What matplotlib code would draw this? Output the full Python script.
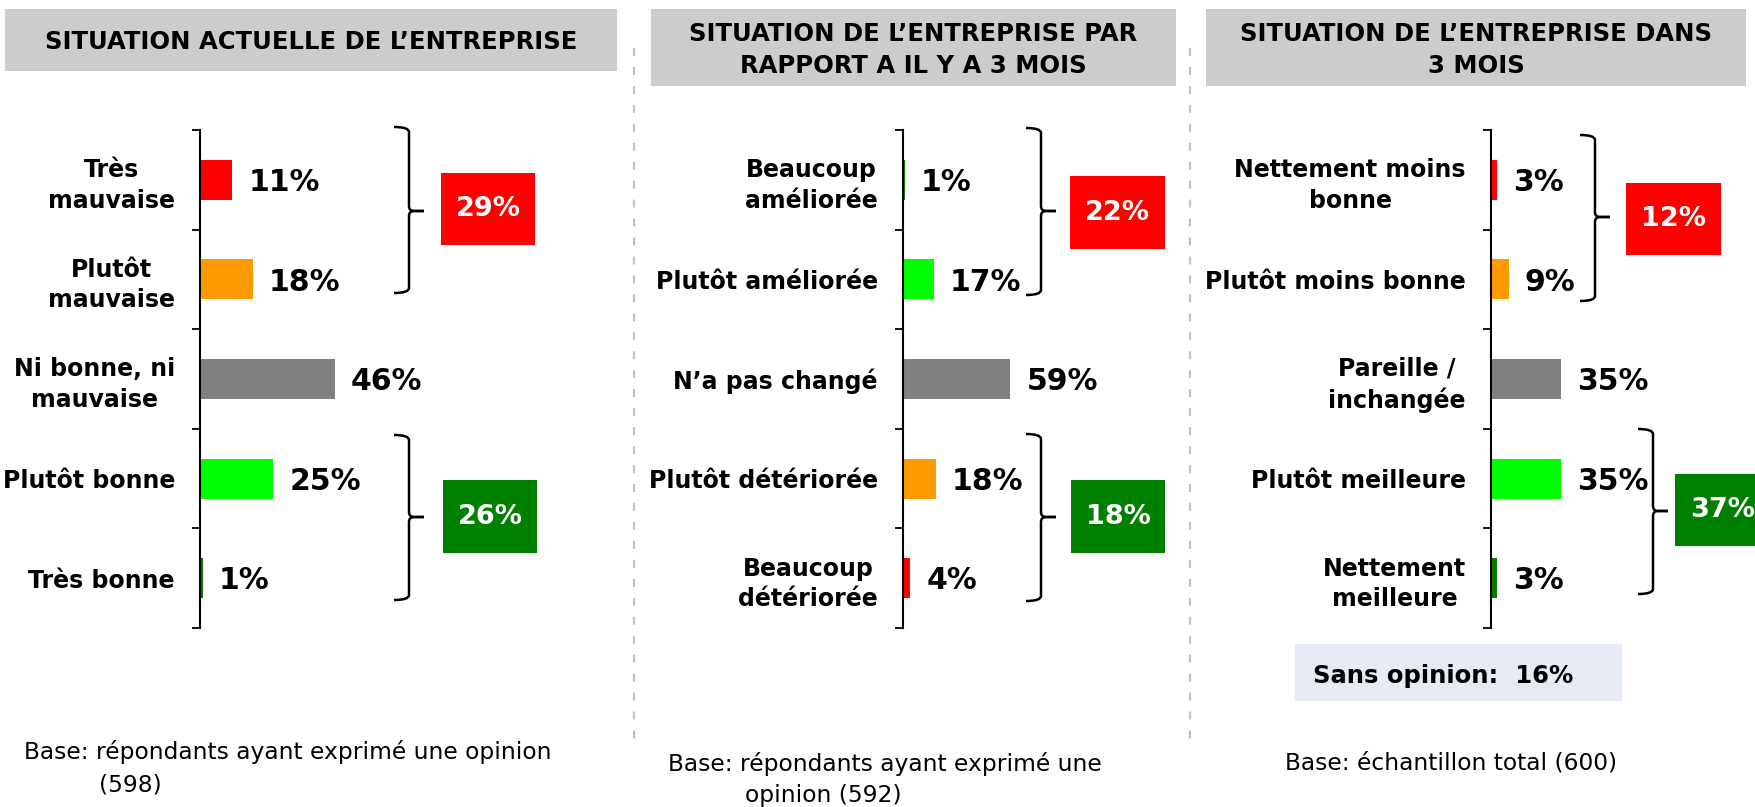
import numpy as np
import matplotlib
matplotlib.use('Agg')
import matplotlib.pyplot as plt
from matplotlib.patches import Rectangle, PathPatch
from matplotlib.path import Path
from matplotlib.lines import Line2D

# ---- data ----
titles = ['SITUATION ACTUELLE DE L\u2019ENTREPRISE',
          'SITUATION DE L\u2019ENTREPRISE PAR\nRAPPORT A IL Y A 3 MOIS',
          'SITUATION DE L\u2019ENTREPRISE DANS\n3 MOIS']

cats1 = ['Très\nmauvaise', 'Plutôt\nmauvaise', 'Ni bonne, ni\nmauvaise', 'Plutôt bonne', 'Très bonne']
vals1 = [11, 18, 46, 25, 1]
cats2 = ['Beaucoup\naméliorée', 'Plutôt améliorée', 'N\u2019a pas changé', 'Plutôt détériorée', 'Beaucoup\ndétériorée']
vals2 = [1, 17, 59, 18, 4]
cats3 = ['Nettement moins\nbonne', 'Plutôt moins bonne', 'Pareille /\ninchangée', 'Plutôt meilleure', 'Nettement\nmeilleure']
vals3 = [3, 9, 35, 35, 3]

RED, ORANGE, GREY, LIME, DKGREEN = '#FF0000', '#FF9900', '#808080', '#00FF00', '#008000'
cols1 = [RED, ORANGE, GREY, LIME, DKGREEN]
cols2 = [DKGREEN, LIME, GREY, ORANGE, RED]
cols3 = [RED, ORANGE, GREY, LIME, DKGREEN]

groups1 = [29, 26]
groups2 = [22, 18]
groups3 = [12, 37]
group_cols = [RED, DKGREEN]

sans_opinion = 16
notes = [('Base: répondants ayant exprimé une opinion', '(598)'),
         ('Base: répondants ayant exprimé une', 'opinion (592)'),
         ('Base: échantillon total (600)', '')]

# ---- layout (pixels, y from top) ----
W, H = 1755, 807
plt.rcParams['font.family'] = 'DejaVu Sans'
fig = plt.figure(figsize=(W / 100, H / 100), dpi=100)


def fx(x):
    return x / W


def fy(y):
    return 1 - y / H


def rect(x0, y0, x1, y1, color):
    fig.add_artist(Rectangle((fx(x0), fy(y1)), (x1 - x0) / W, (y1 - y0) / H,
                             transform=fig.transFigure, facecolor=color,
                             edgecolor='none', zorder=0))


def bracket(x, top, bot, mid, s=15, r=5):
    for end in (top, bot):
        sg = 1 if end < mid else -1
        pts = [(x - s, end), (x, end), (x, end + sg * r), (x, mid - sg * r),
               (x, mid), (x + r, mid), (x + s, mid)]
        codes = [Path.MOVETO, Path.CURVE3, Path.CURVE3, Path.LINETO,
                 Path.CURVE3, Path.CURVE3, Path.LINETO]
        pts = [(fx(a), fy(b)) for a, b in pts]
        fig.add_artist(PathPatch(Path(pts, codes), transform=fig.transFigure,
                                 fill=False, lw=1.8, ec='black'))


panels = [
    dict(cats=cats1, vals=vals1, cols=cols1, groups=groups1, axx=200, scale=2.93,
         tbox=(5, 9, 617, 71), tc=(311, 42),
         br=[(409, 127, 293, 211), (409, 435, 600, 517)],
         gbox=[(441, 173, 535, 245), (443, 480, 537, 553)],
         note=[(24, 759), (99, 792)]),
    dict(cats=cats2, vals=vals2, cols=cols2, groups=groups2, axx=903, scale=1.82,
         tbox=(651, 9, 1176, 86), tc=(913, 50),
         br=[(1041, 128, 295, 211), (1041, 434, 601, 517)],
         gbox=[(1070, 176, 1165, 249), (1071, 480, 1165, 553)],
         note=[(668, 771), (745, 802)]),
    dict(cats=cats3, vals=vals3, cols=cols3, groups=groups3, axx=1491, scale=2.0,
         tbox=(1206, 9, 1746, 86), tc=(1476, 50),
         br=[(1595, 135, 301, 217), (1653, 429, 594, 511)],
         gbox=[(1626, 183, 1721, 255), (1675, 474, 1770, 546)],
         note=[(1285, 770), (0, 0)]),
]

AX_TOP, AX_BOT, AX_W = 130, 628, 260

for k, p in enumerate(panels):
    # title
    x0, y0, x1, y1 = p['tbox']
    rect(x0, y0, x1, y1, '#CCCCCC')
    fig.text(fx(p['tc'][0]), fy(p['tc'][1]), titles[k], ha='center', va='center',
             fontsize=17.5, fontweight='bold', linespacing=1.4)

    # bars
    ax = fig.add_axes([fx(p['axx']), fy(AX_BOT), AX_W / W, (AX_BOT - AX_TOP) / H])
    ax.patch.set_visible(False)
    y = np.arange(len(p['vals']))
    ax.barh(y, p['vals'], height=0.4, color=p['cols'])
    ax.set_ylim(len(y) - 0.5, -0.5)
    ax.set_xlim(0, AX_W / p['scale'])
    ax.set_xticks([])
    ax.set_yticks(np.arange(-0.5, len(y), 1))
    ax.set_yticklabels([])
    ax.set_yticks(y, p['cats'], minor=True)
    ax.tick_params(axis='y', which='major', length=6, width=1.3, direction='out')
    ax.tick_params(axis='y', which='minor', length=0, pad=18, labelsize=17)
    for lab in ax.get_yticklabels(minor=True):
        lab.set_fontweight('bold')
        lab.set_multialignment('center')
        lab.set_linespacing(1.33)
    for sp in ['top', 'right', 'bottom']:
        ax.spines[sp].set_visible(False)
    ax.spines['left'].set_linewidth(1.5)
    for i, v in enumerate(p['vals']):
        ax.annotate(f'{v}%', (v, i), xytext=(11.5, -2), textcoords='offset points',
                    ha='left', va='center', fontsize=21.5, fontweight='bold')

    # brackets and group boxes
    for b in p['br']:
        bracket(*b)
    for (gx0, gy0, gx1, gy1), g, c in zip(p['gbox'], p['groups'], group_cols):
        rect(gx0, gy0, gx1, gy1, c)
        fig.text(fx((gx0 + gx1) / 2), fy((gy0 + gy1) / 2), f'{g}%', ha='center',
                 va='center', color='white', fontsize=19.5, fontweight='bold')

    # footnote
    for (nx, ny), line in zip(p['note'], notes[k]):
        if line:
            fig.text(fx(nx), fy(ny), line, ha='left', va='baseline', fontsize=16.8)

# sans opinion
rect(1295, 644, 1622, 701, '#E6EAF2')
fig.text(fx(1313), fy(683), f'Sans opinion:  {sans_opinion}%', ha='left', va='baseline',
         fontsize=17.5, fontweight='bold')

# dashed separators
for sx in (634, 1190):
    fig.add_artist(Line2D([fx(sx), fx(sx)], [fy(48), fy(745)], transform=fig.transFigure,
                          color='#C0C0C0', lw=1.5, dashes=(3.8, 5.3)))

fig.savefig('out.png', dpi=100)
